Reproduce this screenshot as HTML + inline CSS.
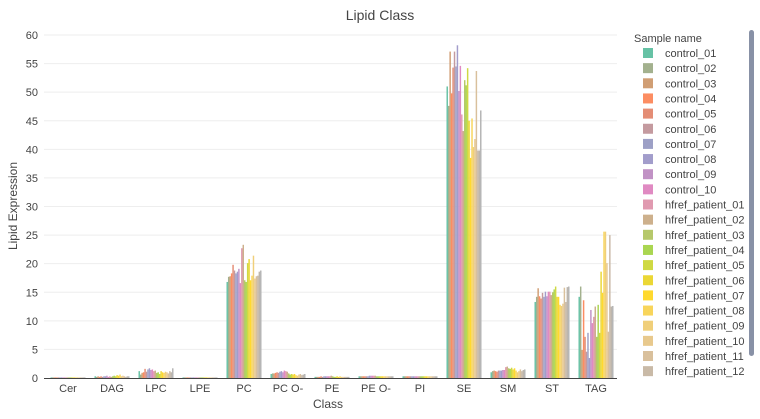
<!DOCTYPE html>
<html><head><meta charset="utf-8"><style>
body{margin:0;background:#fff;font-family:"Liberation Sans","DejaVu Sans",sans-serif;}
svg text{font-family:"Liberation Sans","DejaVu Sans",sans-serif;fill:#444;}
</style></head><body>
<svg id="chart" width="760" height="414" xmlns="http://www.w3.org/2000/svg">
<text x="380" y="20" text-anchor="middle" font-size="14">Lipid Class</text>
<text transform="translate(17,206) rotate(-90)" text-anchor="middle" font-size="12">Lipid Expression</text>
<text x="328" y="408" text-anchor="middle" font-size="12">Class</text>
<g id="grid"></g><g id="bars"></g><g id="axes"></g>
<text x="634" y="42" font-size="11">Sample name</text>
<g id="legend"></g>
<rect x="749" y="30" width="5" height="326" rx="2.5" fill="#8891a6"/>
</svg>
<script>
const categories=["Cer","DAG","LPC","LPE","PC","PC O-","PE","PE O-","PI","SE","SM","ST","TAG"];
const samples=["control_01","control_02","control_03","control_04","control_05","control_06","control_07","control_08","control_09","control_10","hfref_patient_01","hfref_patient_02","hfref_patient_03","hfref_patient_04","hfref_patient_05","hfref_patient_06","hfref_patient_07","hfref_patient_08","hfref_patient_09","hfref_patient_10","hfref_patient_11","hfref_patient_12","hfref_patient_13","hfref_patient_14"];
const colors=["#66c2a5","#a3b18e","#d09e74","#fc8d62","#e48d75","#c49a9f","#9da0c6","#a29dcb","#c192c5","#e08ac2","#e09ab0","#cdb08c","#b6c86b","#aad651","#cfd943","#ebd735","#ffd92f","#f8d55b","#f0cf7a","#e8c98d","#d9c09c","#c9baa7","#bdb6ad","#b3b3b3"];
const yTicks=[0,5,10,15,20,25,30,35,40,45,50,55,60];
const vCer=[0.1,0.1,0.1,0.1,0.1,0.1,0.1,0.1,0.1,0.1,0.1,0.1,0.1,0.1,0.1,0.1,0.1,0.1,0.1,0.1,0.1,0.1,0.1,0.1];
const vDAG=[0.3,0.2,0.3,0.2,0.3,0.2,0.3,0.3,0.4,0.2,0.3,0.2,0.3,0.4,0.3,0.5,0.4,0.6,0.3,0.4,0.3,0.2,0.3,0.3];
const vLPC=[1.2,0.6,0.9,1.0,1.6,1.1,1.5,1.7,1.4,1.5,1.2,1.3,0.9,1.0,0.7,1.2,1.0,0.9,1.1,1.0,0.8,1.2,1.0,1.7];
const vLPE=[0.1,0.1,0.1,0.1,0.1,0.1,0.1,0.1,0.1,0.1,0.1,0.1,0.1,0.1,0.1,0.1,0.1,0.1,0.1,0.1,0.1,0.1,0.1,0.1];
const vPC=[16.8,17.7,17.8,18.3,19.8,18.8,18.3,18.6,19.1,16.6,22.7,23.3,17.1,16.8,20.1,20.8,17.1,17.9,21.4,17.4,17.8,17.9,18.6,18.8];
const vPCO=[0.7,0.8,0.8,0.9,1.0,0.9,1.1,1.2,1.0,1.3,1.2,1.1,0.8,0.6,0.7,0.6,0.7,0.5,0.4,0.6,0.7,0.5,0.6,0.7];
const vPE=[0.2,0.2,0.2,0.2,0.3,0.2,0.3,0.3,0.3,0.3,0.3,0.4,0.3,0.2,0.2,0.3,0.2,0.3,0.2,0.2,0.2,0.2,0.2,0.2];
const vPEO=[0.3,0.3,0.3,0.3,0.3,0.3,0.3,0.4,0.4,0.4,0.4,0.4,0.3,0.3,0.3,0.3,0.3,0.3,0.3,0.3,0.3,0.3,0.3,0.3];
const vPI=[0.3,0.3,0.3,0.3,0.3,0.3,0.3,0.3,0.3,0.3,0.3,0.3,0.3,0.3,0.3,0.3,0.3,0.3,0.3,0.3,0.3,0.3,0.3,0.3];
const vSE=[51.0,47.6,57.1,49.8,54.3,57.1,54.5,58.2,50.2,54.6,46.1,43.2,52.1,51.2,54.2,45.0,38.5,45.4,40.4,41.8,53.7,39.8,39.8,46.8];
const vSM=[1.0,1.2,1.3,1.2,1.1,1.3,1.3,1.3,1.4,1.4,1.9,2.0,1.7,1.6,1.8,1.5,1.7,1.3,1.0,1.2,1.5,1.2,1.4,1.5];
const vST=[13.3,14.2,15.7,14.3,13.9,14.9,14.2,15.1,14.3,15.1,15.1,14.5,15.0,15.5,16.0,14.2,14.2,12.8,12.6,13.0,15.8,13.3,15.9,16.0];
const vTAG=[14.2,16.0,4.9,13.6,7.2,4.6,7.9,3.5,11.9,9.6,10.7,12.5,7.2,12.8,7.9,18.6,14.9,25.6,25.6,20.1,8.1,25.0,12.5,12.6];
const values=[vCer,vDAG,vLPC,vLPE,vPC,vPCO,vPE,vPEO,vPI,vSE,vSM,vST,vTAG];
const NS="http://www.w3.org/2000/svg";
const X0=44,X1=617,Y0=378,Y60=35;
const yS=v=>Y0-(v/60)*(Y0-Y60);
const step=44,first=68,groupW=35;
const xC=i=>first+i*step;
function mk(t,a,p){const e=document.createElementNS(NS,t);for(const k in a)e.setAttribute(k,a[k]);p.appendChild(e);return e;}
const grid=document.getElementById('grid'),axes=document.getElementById('axes'),bars=document.getElementById('bars'),leg=document.getElementById('legend');
yTicks.forEach(t=>{
 if(t>0){const l=mk('line',{x1:X0,x2:X1,y1:yS(t),y2:yS(t),stroke:'#eeeeee','stroke-width':1},grid);
 
 }
 const tx=mk('text',{x:X0-6,y:yS(t)+4,'text-anchor':'end','font-size':11},axes);tx.textContent=t;
 
 
});
const bw=groupW/samples.length;
categories.forEach((c,ci)=>{
 samples.forEach((s,si)=>{
  const v=values[ci][si];const x=xC(ci)-groupW/2+si*bw;
  const r=mk('rect',{x:x,y:yS(v),width:bw,height:Y0-yS(v),fill:colors[si]},bars);
  
  
 });
 const tx=mk('text',{x:xC(ci),y:392,'text-anchor':'middle','font-size':11},axes);tx.textContent=c;
 
 
});
const ax=mk('line',{x1:X0,x2:X1,y1:Y0+0.5,y2:Y0+0.5,stroke:'#444','stroke-width':1},axes);


samples.forEach((s,i)=>{
 const y=53+i*15.15;if(y>380)return;
 const g=mk('g',{},leg);
 
 
 mk('rect',{x:643,y:y-5,width:10,height:10,fill:colors[i]},g);
 const t=mk('text',{x:665,y:y+4,'font-size':11},g);t.textContent=s;
});
</script>
</body></html>
